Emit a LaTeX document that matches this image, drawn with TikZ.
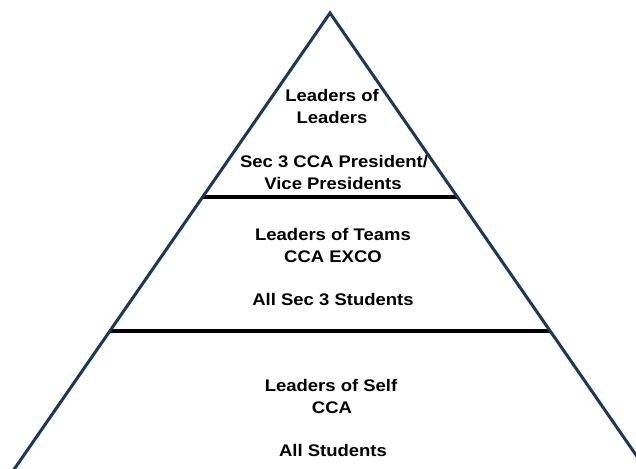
\documentclass[tikz,border=0pt]{standalone}
\usepackage{fontspec}
\newfontfamily\lab[FakeStretch=1.1]{Liberation Sans}
\usetikzlibrary{calc}
\definecolor{edge}{RGB}{27,56,88}
\begin{document}
\begin{tikzpicture}[x=1pt,y=-1pt,
  lbl/.style={anchor=base,inner sep=0pt,font=\lab\bfseries\fontsize{16.8}{21.7}\selectfont},
  tier/.style={line width=3.2pt,black},
  pyr/.style={line width=3pt,edge,line join=miter}]
\useasboundingbox (0,0) rectangle (636,468);
\clip (0,0) rectangle (636,468);
\fill[white] (0,0) rectangle (636,468);
\coordinate (apex) at (330,13);
\coordinate (bl) at (15,468);
\coordinate (br) at (645,468);
\coordinate (l1) at ($(apex)!184/455!(bl)$);
\coordinate (r1) at ($(apex)!184/455!(br)$);
\coordinate (l2) at ($(apex)!318/455!(bl)$);
\coordinate (r2) at ($(apex)!318/455!(br)$);
\draw[tier] (l1) -- (r1);
\draw[tier] (l2) -- (r2);
\draw[pyr] ($(apex)!1.02!(bl)$) -- (apex) -- ($(apex)!1.02!(br)$);
\node[lbl] (t1a) at (332,102) {Leaders of};
\node[lbl] (t1b) at (332,123) {Leaders};
\node[lbl] (t1c) at (334,167) {Sec 3 CCA President/};
\node[lbl] (t1d) at (333,189) {Vice Presidents};
\node[lbl] (t2a) at (333,240) {Leaders of Teams};
\node[lbl] (t2b) at (333,262) {CCA EXCO};
\node[lbl] (t2c) at (333,305) {All Sec 3 Students};
\node[lbl] (t3a) at (331,391) {Leaders of Self};
\node[lbl] (t3b) at (332,413) {CCA};
\node[lbl] (t3c) at (333,456) {All Students};
\end{tikzpicture}
\end{document}
